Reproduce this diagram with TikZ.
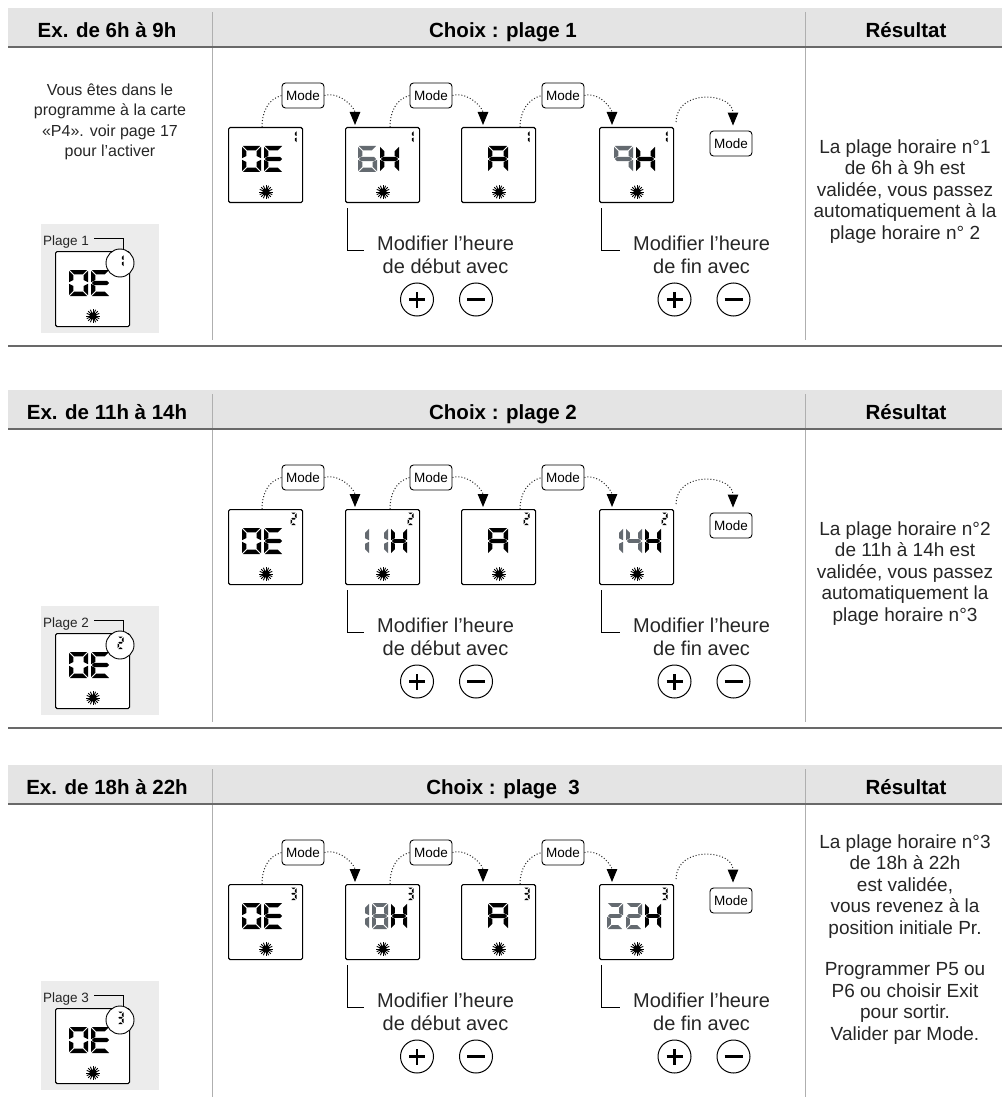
\documentclass[tikz,border=0pt]{standalone}
\usepackage{fontspec}
\setmainfont{Liberation Sans}
\usetikzlibrary{arrows.meta, positioning, calc}

\definecolor{headgray}{RGB}{228,228,228}
\definecolor{rulegray}{RGB}{105,105,105}
\definecolor{sepgray}{RGB}{175,175,175}
\definecolor{plagegray}{RGB}{236,236,236}
\definecolor{lcdgray}{RGB}{100,106,112}

% seven segment pieces (local y points down)
\def\segW{18}\def\segH{26}\def\segT{3.4}\def\segG{0.8}
\newcommand{\sga}{({\segG},0) -- ({\segW-\segG},0) -- ({\segW-\segG-\segT},{\segT}) -- ({\segG+\segT},{\segT}) -- cycle}
\newcommand{\sgb}{({\segW},{\segG}) -- ({\segW},{\segH/2-\segG}) -- ({\segW-\segT},{\segH/2-\segG-\segT/2}) -- ({\segW-\segT},{\segG+\segT}) -- cycle}
\newcommand{\sgc}{({\segW},{\segH/2+\segG}) -- ({\segW},{\segH-\segG}) -- ({\segW-\segT},{\segH-\segG-\segT}) -- ({\segW-\segT},{\segH/2+\segG+\segT/2}) -- cycle}
\newcommand{\sgd}{({\segG},{\segH}) -- ({\segW-\segG},{\segH}) -- ({\segW-\segG-\segT},{\segH-\segT}) -- ({\segG+\segT},{\segH-\segT}) -- cycle}
\newcommand{\sge}{(0,{\segH/2+\segG}) -- (0,{\segH-\segG}) -- ({\segT},{\segH-\segG-\segT}) -- ({\segT},{\segH/2+\segG+\segT/2}) -- cycle}
\newcommand{\sgf}{(0,{\segG}) -- (0,{\segH/2-\segG}) -- ({\segT},{\segH/2-\segG-\segT/2}) -- ({\segT},{\segG+\segT}) -- cycle}
\newcommand{\sgg}{({\segG},{\segH/2}) -- ({\segG+\segT/2},{\segH/2-\segT/2}) -- ({\segW-\segG-\segT/2},{\segH/2-\segT/2}) -- ({\segW-\segG},{\segH/2}) -- ({\segW-\segG-\segT/2},{\segH/2+\segT/2}) -- ({\segG+\segT/2},{\segH/2+\segT/2}) -- cycle}

% one character: node, dx, dy, width, height, thickness, segments, colour
\newcommand{\lcdseg}[8]{%
  \begin{scope}[shift={($(#1.north west)+(#2,-#3)$)}, yscale=-1]
    \def\segW{#4}\def\segH{#5}\def\segT{#6}\edef\seglist{#7}%
    \foreach \s in \seglist {%
      \expandafter\let\expandafter\segcur\csname sg\s\endcsname
      \fill[#8] \segcur;}
  \end{scope}}

% small digit top right
\newcommand{\lcdtag}[2]{\lcdseg{#1}{62.5}{3.5}{6}{12.5}{1.7}{#2}{black}}

% sun mark at the bottom
\newcommand{\lcdsun}[1]{%
  \fill ($(#1.north west)+(38,-65)$) circle (3.6);
  \foreach \a in {0,22.5,...,337.5}
    \draw[line width=0.9pt] ($(#1.north west)+(38,-65)+(\a:2.5)$) -- ++(\a:4.3);}

% "DE" on a display
\newcommand{\lcdDE}[1]{%
  \lcdseg{#1}{14}{19}{19}{26}{4.4}{a,b,c,d,e,f}{black}%
  \lcdseg{#1}{36}{19}{19}{26}{4.4}{a,d,e,f,g}{black}}

\begin{document}
\begin{tikzpicture}[x=1pt, y=1pt,
    lcd/.style={draw=black, line width=1.1pt, rounded corners=1.5pt, fill=white,
        minimum width=74pt, minimum height=75pt, inner sep=0pt, anchor=north west},
    modebtn/.style={draw=black, line width=0.9pt, rounded corners=3.5pt, fill=white,
        minimum width=42pt, minimum height=25pt, inner sep=0pt,
        font=\fontsize{13.5}{15}\selectfont},
    pmbtn/.style={circle, draw=black, line width=1pt, minimum size=33pt, inner sep=0pt},
    pmbar/.style={line width=2.6pt},
    hop/.style={dotted, line width=1pt, black!85},
    hoparrow/.style={hop, -{Triangle[width=10.5pt,length=13pt,black]}},
    bracket/.style={line width=1pt, black},
    colsep/.style={line width=1pt, sepgray},
    rowrule/.style={line width=1.8pt, rulegray},
    headtxt/.style={anchor=base, font=\bfseries\fontsize{20.5}{24}\selectfont},
    introtxt/.style={align=center, text=black!85, font=\fontsize{16}{20.5}\selectfont},
    modtxt/.style={align=center, inner sep=0pt, anchor=north west, text=black!85,
        font=\fontsize{20}{23.5}\selectfont},
    restxt/.style={align=center, text=black!85, font=\fontsize{19}{21.5}\selectfont},
    plagebg/.style={fill=plagegray, minimum width=118pt, minimum height=109pt,
        inner sep=0pt, anchor=north west},
    plagelbl/.style={anchor=base west, inner sep=0pt, text=black!85,
        font=\fontsize{13.5}{15}\selectfont},
    zoomring/.style={circle, draw=black, line width=0.9pt, fill=white,
        minimum size=28pt, inner sep=0pt},
    leader/.style={line width=0.9pt, black}
]

\useasboundingbox (0,0) rectangle (1002,-1099);

% the three rows share their layout
\foreach \row/\dy/\sm in {1/0/{b,c},2/382/{a,b,g,e,d},3/757/{a,b,g,c,d}} {
    % header band and column rules
    \fill[headgray] (8,{-8-\dy}) rectangle (1002,{-47-\dy});
    \draw[colsep] (212,{-12-\dy}) -- (212,{-340-\dy});
    \draw[colsep] (805,{-12-\dy}) -- (805,{-340-\dy});
    \draw[rowrule] (8,{-47-\dy}) -- (1002,{-47-\dy});

    % displays and Mode buttons
    \node[lcd] (lcd\row-1) at (228,{-127-\dy}) {};
    \node[lcd] (lcd\row-2) at (345,{-127-\dy}) {};
    \node[lcd] (lcd\row-3) at (461,{-127-\dy}) {};
    \node[lcd] (lcd\row-4) at (599,{-127-\dy}) {};
    \node[modebtn] (mode\row-1) at (303,{-95.5-\dy}) {Mode};
    \node[modebtn] (mode\row-2) at (431,{-95.5-\dy}) {Mode};
    \node[modebtn] (mode\row-3) at (563,{-95.5-\dy}) {Mode};
    \node[modebtn] (mode\row-4) at (731,{-143.5-\dy}) {Mode};

    \lcdDE{lcd\row-1}
    \lcdseg{lcd\row-3}{27}{19}{20}{26}{4.4}{a,b,c,e,f,g}{black}
    \foreach \i in {1,...,4} {
        \lcdtag{lcd\row-\i}{\sm}
        \lcdsun{lcd\row-\i}
    }

    % dotted hops through the Mode button
    \draw[hop] ($(lcd\row-1.north west)+(34,0)$) to[out=90,in=195] (mode\row-1.west);
    \draw[hoparrow] (mode\row-1.east) to[out=15,in=90] ($(lcd\row-2.north west)+(10,2)$);
    \draw[hop] ($(lcd\row-2.north west)+(45,0)$) to[out=90,in=195] (mode\row-2.west);
    \draw[hoparrow] (mode\row-2.east) to[out=15,in=90] ($(lcd\row-3.north west)+(22,2)$);
    \draw[hop] ($(lcd\row-3.north west)+(59,0)$) to[out=90,in=195] (mode\row-3.west);
    \draw[hoparrow] (mode\row-3.east) to[out=15,in=90] ($(lcd\row-4.north west)+(13,2)$);
    \draw[hoparrow] ($(lcd\row-4.north east)+(2,5)$) to[out=90,in=90,looseness=1.5] ($(mode\row-4.north)+(2,5)$);

    % start / end hour hints
    \node[modtxt] (modi\row-1) at (377,{-235.5-\dy}) {Modifier l’heure\\de début avec};
    \node[modtxt] (modi\row-2) at (633,{-235.5-\dy}) {Modifier l’heure\\de fin avec};
    \draw[bracket] ($(lcd\row-2.south west)+(2,-5)$) |- ($(modi\row-1.north west)+(-13,-14.5)$);
    \draw[bracket] ($(lcd\row-4.south west)+(2,-5)$) |- ($(modi\row-2.north west)+(-13,-14.5)$);

    % plus / minus keys
    \node[pmbtn] (plus\row-1) at (417,{-299.5-\dy}) {};
    \node[pmbtn] (minus\row-1) at (476,{-299.5-\dy}) {};
    \node[pmbtn] (plus\row-2) at (674.5,{-299.5-\dy}) {};
    \node[pmbtn] (minus\row-2) at (733.5,{-299.5-\dy}) {};
    \foreach \k in {1,2} {
        \draw[pmbar] ($(plus\row-\k.center)+(-8,0)$) -- ++(16,0);
        \draw[pmbar] ($(plus\row-\k.center)+(0,-8)$) -- ++(0,16);
        \draw[pmbar] ($(minus\row-\k.center)+(-9,0)$) -- ++(18,0);
    }

    % Plage reminder, left column
    \node[plagebg] (pbg\row) at (41,{-224-\dy}) {};
    \node[lcd] (plcd\row) at (55,{-251-\dy}) {};
    \lcdDE{plcd\row}
    \lcdsun{plcd\row}
    \node[zoomring] (ring\row) at (120,{-263-\dy}) {};
    \lcdtag{plcd\row}{\sm}
    \node[plagelbl] (plbl\row) at (43,{-245-\dy}) {Plage \row};
    \draw[leader] ($(plbl\row.east)+(5,3)$) -| ($(ring\row.north)+(3,-0.6)$);
}

% row separators
\draw[rowrule] (8,-346) -- (1002,-346);
\draw[rowrule] (8,-728) -- (1002,-728);

% blinking hours
\lcdseg{lcd1-2}{13}{19}{19}{26}{4.4}{a,c,d,e,f,g}{lcdgray}
\lcdseg{lcd1-2}{35}{19}{19}{26}{4.4}{b,c,e,f,g}{black}
\lcdseg{lcd1-4}{15}{19}{19}{26}{4.4}{a,b,c,f,g}{lcdgray}
\lcdseg{lcd1-4}{37}{19}{19}{26}{4.4}{b,c,e,f,g}{black}

\lcdseg{lcd2-2}{8}{19}{16}{26}{3.9}{b,c}{lcdgray}
\lcdseg{lcd2-2}{27}{19}{16}{26}{3.9}{b,c}{lcdgray}
\lcdseg{lcd2-2}{46}{19}{16}{26}{3.9}{b,c,e,f,g}{black}
\lcdseg{lcd2-4}{8}{19}{16}{26}{3.9}{b,c}{lcdgray}
\lcdseg{lcd2-4}{27}{19}{16}{26}{3.9}{b,c,f,g}{lcdgray}
\lcdseg{lcd2-4}{46}{19}{16}{26}{3.9}{b,c,e,f,g}{black}

\lcdseg{lcd3-2}{8}{19}{16}{26}{3.9}{b,c}{lcdgray}
\lcdseg{lcd3-2}{27}{19}{16}{26}{3.9}{a,b,c,d,e,f,g}{lcdgray}
\lcdseg{lcd3-2}{46}{19}{16}{26}{3.9}{b,c,e,f,g}{black}
\lcdseg{lcd3-4}{8}{19}{16}{26}{3.9}{a,b,g,e,d}{lcdgray}
\lcdseg{lcd3-4}{27}{19}{16}{26}{3.9}{a,b,g,e,d}{lcdgray}
\lcdseg{lcd3-4}{46}{19}{16}{26}{3.9}{b,c,e,f,g}{black}

% headers
\node[headtxt] (h1a) at (107,-37.5) {Ex. de 6h à 9h};
\node[headtxt] (h1b) at (503,-37.5) {Choix : plage 1};
\node[headtxt] (h1c) at (906,-37.5) {Résultat};
\node[headtxt] (h2a) at (107,-419.5) {Ex. de 11h à 14h};
\node[headtxt] (h2b) at (503,-419.5) {Choix : plage 2};
\node[headtxt] (h2c) at (906,-419.5) {Résultat};
\node[headtxt] (h3a) at (107,-794.5) {Ex. de 18h à 22h};
\node[headtxt] (h3b) at (503,-794.5) {Choix : plage~ 3};
\node[headtxt] (h3c) at (906,-794.5) {Résultat};

% left column note
\node[introtxt, anchor=north] (intro) at (110,-80) {Vous êtes dans le\\programme à la carte\\«P4». voir page 17\\pour l’activer};

% results
\node[restxt, anchor=north] (res1) at (905,-136) {La plage horaire n°1\\de 6h à 9h est\\validée, vous passez\\automatiquement à la\\plage horaire n° 2};
\node[restxt, anchor=north] (res2) at (905,-518) {La plage horaire n°2\\de 11h à 14h est\\validée, vous passez\\automatiquement la\\plage horaire n°3};
\node[restxt, anchor=north] (res3) at (905,-831) {La plage horaire n°3\\de 18h à 22h\\est validée,\\vous revenez à la\\position initiale Pr.\\[20pt]Programmer P5 ou\\P6 ou choisir Exit\\pour sortir.\\Valider par Mode.};

\end{tikzpicture}
\end{document}
